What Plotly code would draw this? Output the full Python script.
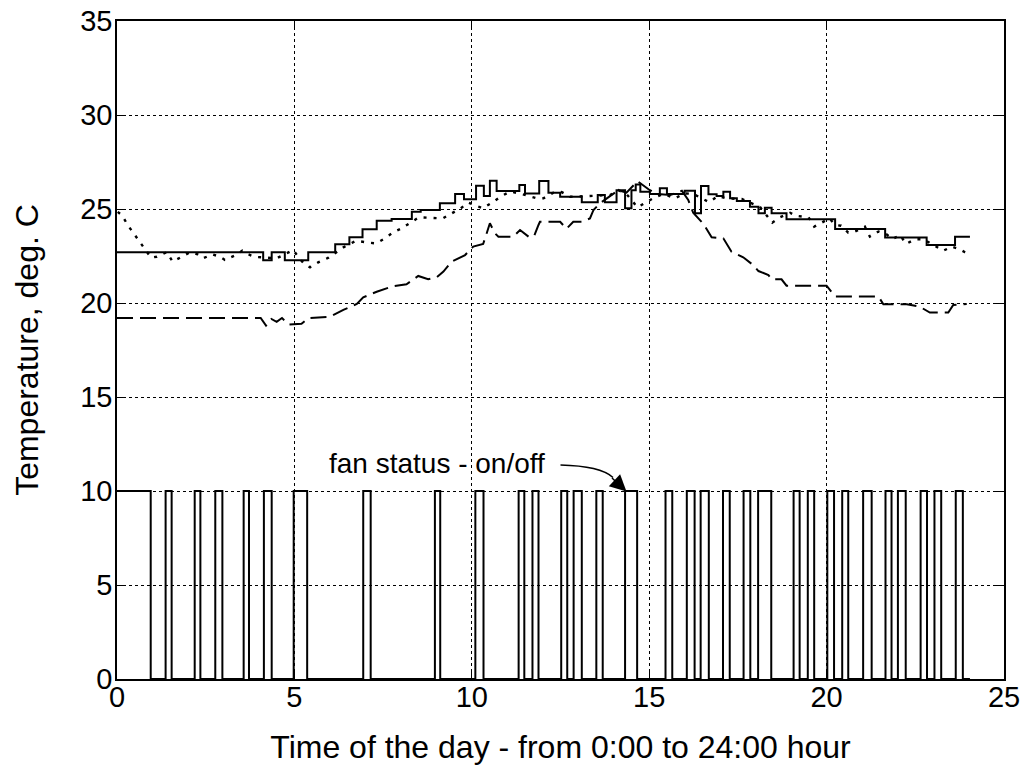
import plotly.graph_objects as go

# ---------------- data ----------------
# solid line (step series): step start time [h], temperature [deg C]
solid_t = [0, 4.12, 4.36, 4.73, 5.39, 6.15, 6.55, 6.92, 7.32, 7.74, 8.31, 8.56, 9.10, 9.53, 9.78,
           10.12, 10.34, 10.51, 10.70, 11.34, 11.50, 11.90, 12.16, 12.49, 13.10, 13.55, 13.75,
           14.08, 14.32, 14.50, 14.62, 14.75, 15.02, 15.30, 15.50, 16.00, 16.29, 16.46, 16.67,
           16.90, 17.09, 17.28, 17.47, 17.84, 18.08, 18.26, 18.45, 18.87, 20.24, 21.65, 22.82,
           23.62, 24.04]
solid_v = [22.7, 22.27, 22.7, 22.27, 22.7, 23.13, 23.5, 23.92, 24.37, 24.47, 24.85, 24.95, 25.3, 25.8, 25.52,
           26.24, 25.69, 26.5, 25.96, 26.28, 25.83, 26.49, 25.87, 25.65, 25.36, 25.74, 25.36,
           26.0, 25.04, 26.0, 26.3, 25.92, 25.8, 26.1, 25.8, 25.97, 24.77, 26.22, 25.78,
           25.69, 25.92, 25.57, 25.43, 25.12, 24.77, 25.07, 24.77, 24.45, 23.94, 23.49, 23.09,
           23.53, 23.53]

# dotted line
dot_t = [0.02, 0.15, 0.30, 0.46, 0.62, 0.79, 0.96, 1.12, 1.40, 1.57, 1.80, 2.06, 2.27, 2.43, 2.69, 2.90,
         3.04, 3.31, 3.53, 3.70, 3.89, 4.28, 4.50, 4.97, 5.09, 5.28, 5.44, 5.67, 5.96, 6.38, 6.74,
         7.08, 7.30, 7.55, 7.79, 8.02, 8.26, 8.51, 9.18, 9.43, 9.69, 9.90, 10.31, 10.59, 10.81,
         11.08, 11.40, 11.83, 12.02, 12.30, 12.53, 12.77, 13.52, 13.90, 14.13, 14.36, 14.67,
         14.93, 15.16, 15.40, 15.73, 16.00, 16.24, 16.69, 16.94, 17.16, 17.61, 17.89, 18.12,
         18.47, 18.69, 18.97, 19.14, 19.49, 19.65, 19.86, 20.08, 20.24, 20.41, 20.61, 20.83,
         21.08, 21.22, 21.46, 21.69, 21.86, 22.07, 22.24, 22.49, 22.73, 22.96, 23.12, 23.29,
         23.53, 23.74, 23.90, 24.02]
dot_v = [24.85, 24.64, 24.15, 23.74, 23.31, 22.91, 22.41, 22.46, 22.7, 22.2, 22.43, 22.7, 22.59, 22.38, 22.59, 22.46,
         22.29, 22.52, 22.78, 22.59, 22.45, 22.43, 22.38, 22.82, 22.5, 22.07, 21.9, 22.16, 22.41, 22.96, 23.31,
         23.21, 23.17, 23.44, 23.76, 23.97, 24.24, 24.56, 24.5, 24.77, 25.04, 25.34, 25.04, 25.36, 25.66,
         25.93, 25.8, 25.57, 25.57, 25.87, 25.9, 25.65, 25.69, 25.74, 26.0, 25.8, 25.09,
         25.36, 25.62, 25.8, 25.57, 25.83, 25.8, 25.36, 25.69, 25.57, 25.53, 25.3, 25.12,
         24.27, 24.56, 24.8, 24.64, 24.56, 24.06, 24.27, 24.5, 24.15, 24.11, 23.74, 23.83,
         24.06, 23.53, 23.8, 23.65, 23.4, 23.62, 23.14, 23.39, 23.39, 23.14, 22.96, 22.78,
         23.0, 22.87, 22.7, 22.6]

# dashed line
dash_t = [0, 4.05, 4.2, 4.35, 4.5, 4.65, 4.85, 5.2, 5.4, 6.0, 6.38, 6.76, 6.94, 7.32, 7.79, 8.16, 8.49,
          8.77, 9.01, 9.2, 9.43, 9.81, 10.04, 10.32, 10.42, 10.51, 10.65, 10.75, 11.17, 11.36, 11.6,
          11.75, 11.88, 11.92, 12.49, 12.67, 12.86, 13.1, 13.33, 13.43, 13.61, 13.9, 14.13, 14.36,
          14.67, 14.98, 15.21, 15.59, 15.92, 16.1, 16.24, 16.53, 16.76, 17.09, 17.32, 17.65, 17.93,
          18.08, 18.36, 18.45, 18.73, 18.87, 20.0, 20.24, 21.46, 21.6, 22.26, 22.63, 22.91, 23.43,
          23.57, 23.95]
dash_v = [19.2, 19.2, 18.8, 19.15, 19.0, 19.2, 18.85, 18.9, 19.2, 19.27, 19.63, 19.95, 20.3, 20.6, 20.9, 21.0, 21.44,
          21.26, 21.37, 21.67, 22.2, 22.55, 23.0, 23.14, 23.71, 24.24, 23.71, 23.53, 23.53, 23.88, 23.53,
          23.53, 24.15, 24.32, 24.32, 23.95, 24.32, 24.32, 24.5, 24.95, 25.3, 25.7, 26.0, 25.87,
          26.48, 26.05, 25.8, 25.74, 25.97, 25.48, 24.8, 24.2, 23.5, 23.44, 22.73, 22.43, 22.02,
          21.7, 21.49, 21.26, 21.26, 20.92, 20.92, 20.35, 20.35, 19.93, 19.93, 19.8, 19.49, 19.49,
          19.9, 19.95]

# fan status (on = 10, off = 0): on-interval start / end times [h]
fan_on_start = [0.0, 1.37, 2.19, 2.77, 3.57, 4.14, 4.98, 6.94, 8.96, 10.10, 11.32, 11.71, 12.52, 12.87,
                13.51, 14.32, 15.46, 16.06, 16.45, 17.08, 17.66, 18.07, 19.07, 19.47, 20.02, 20.44,
                21.03, 21.66, 22.01, 22.65, 23.04, 23.64]
fan_on_end = [0.95, 1.54, 2.35, 2.97, 3.72, 4.36, 5.36, 7.15, 9.11, 10.33, 11.48, 11.88, 12.69, 13.10,
              13.69, 14.66, 15.65, 16.28, 16.68, 17.27, 17.85, 18.44, 19.24, 19.65, 20.21, 20.61,
              21.27, 21.83, 22.23, 22.83, 23.23, 23.84]
fan_end_time = 24.04
FAN_ON = 10

x_ticks = [0, 5, 10, 15, 20, 25]
y_ticks = [0, 5, 10, 15, 20, 25, 30, 35]

# ---------------- build fan polyline ----------------
fan_x, fan_y = [], []
for s, e in zip(fan_on_start, fan_on_end):
    if s == 0:
        fan_x += [s, e, e]
        fan_y += [FAN_ON, FAN_ON, 0]
    else:
        fan_x += [s, s, e, e]
        fan_y += [0, FAN_ON, FAN_ON, 0]
fan_x.append(fan_end_time)
fan_y.append(0)

fig = go.Figure()
fig.add_trace(go.Scatter(x=fan_x, y=fan_y, mode="lines",
                         line=dict(color="black", width=2), showlegend=False))
fig.add_trace(go.Scatter(x=dash_t, y=dash_v, mode="lines",
                         line=dict(color="black", width=2, dash="16px,7px"), showlegend=False))
fig.add_trace(go.Scatter(x=dot_t, y=dot_v, mode="lines",
                         line=dict(color="black", width=2.4, dash="3px,7px"), showlegend=False))
fig.add_trace(go.Scatter(x=solid_t, y=solid_v, mode="lines", line_shape="hv",
                         line=dict(color="black", width=2), showlegend=False))

FONT = "Liberation Sans, Arial, Helvetica, sans-serif"

# annotation text and curved arrow
fig.add_annotation(x=9.03, y=11.45, xref="x", yref="y", text="fan status - on/off",
                   showarrow=False, font=dict(family=FONT, size=28, color="black"),
                   xanchor="center", yanchor="middle")
fig.add_shape(type="path", xref="x", yref="y",
              path="M 12.50,11.38 Q 13.62,11.33 13.98,10.72",
              line=dict(color="black", width=1.5))
fig.add_annotation(x=14.36, y=9.97, xref="x", yref="y", text="", showarrow=True,
                   ax=-16, ay=-15, arrowhead=2, arrowsize=2.2, arrowwidth=1.5,
                   arrowcolor="black", standoff=0)

axis_common = dict(
    showline=True, linecolor="black", linewidth=1.5, mirror="ticks",
    ticks="inside", ticklen=8, tickcolor="black", tickwidth=1,
    showgrid=True, gridcolor="black", gridwidth=1, griddash="dot",
    zeroline=False, tickfont=dict(family=FONT, size=29, color="black"),
    title_font=dict(family=FONT, size=32, color="black"),
    automargin=False,
)

fig.update_xaxes(range=[0, 25], tickvals=x_ticks, ticktext=[str(v) for v in x_ticks],
                 title_text="Time of the day - from 0:00 to 24:00 hour", title_standoff=24,
                 ticklabelstandoff=-9, **axis_common)
fig.update_yaxes(range=[0, 35], tickvals=y_ticks, ticktext=[str(v) for v in y_ticks],
                 title_text="Temperature, deg. C", title_standoff=32, ticklabelstandoff=-3,
                 **axis_common)

fig.update_layout(
    width=1026, height=765,
    margin=dict(l=117, r=22, t=21, b=86),
    paper_bgcolor="white", plot_bgcolor="white",
    font=dict(family=FONT, size=28, color="black"),
)

fig.write_html("out.html")
